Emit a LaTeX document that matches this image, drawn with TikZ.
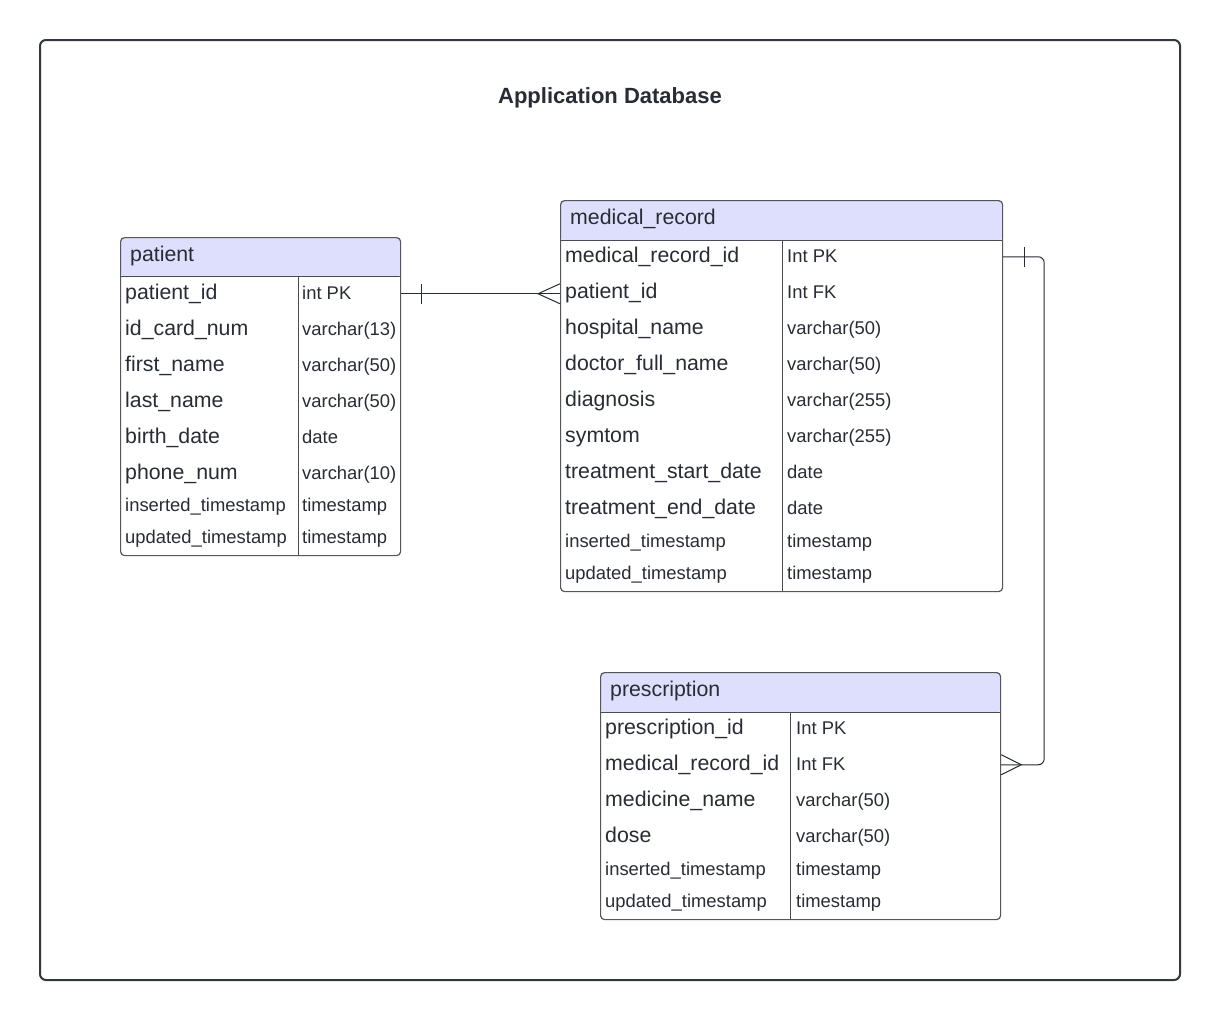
\documentclass[tikz,border=0pt]{standalone}
\usepackage{fontspec}
\setmainfont{Liberation Sans}
\usetikzlibrary{positioning}
\definecolor{ink}{RGB}{40,44,52}
\definecolor{hdrfill}{RGB}{222,223,252}
\definecolor{edge}{RGB}{85,85,90}

\tikzset{
  tbl/.style={draw=edge, line width=1.2pt, rounded corners=4pt, inner sep=0pt, anchor=north west,
    path picture={\fill[hdrfill] (path picture bounding box.north west) rectangle ([yshift=-#1]path picture bounding box.north east);}},
  rule/.style={draw=ink!85, line width=1pt},
  hdr/.style={anchor=base west, inner sep=0pt, text=ink, font=\fontsize{21.3}{25}\selectfont},
  fld/.style={anchor=base west, inner sep=0pt, text=ink, text height=15pt, text depth=4.5pt, font=\fontsize{21.3}{25}\selectfont},
  fldsm/.style={anchor=base west, inner sep=0pt, text=ink, text height=13pt, text depth=4pt, font=\fontsize{18.4}{22}\selectfont},
  link/.style={draw=ink, line width=1pt},
}

\begin{document}
\begin{tikzpicture}[x=1pt, y=-1pt]
    \useasboundingbox[fill=white] (0,0) rectangle (1220,1020);
    \draw[line width=2pt, draw=ink!95, rounded corners=6pt] (40,40) rectangle (1180,980);
    \node[anchor=base, text=ink, font=\bfseries\fontsize{22}{26}\selectfont] (title) at (610,103) {Application Database};

    % patient
    \node[tbl=39pt, minimum width=280pt, minimum height=318pt] (patient) at (120,237) {};
    \draw[rule] (120,276) -- (400,276);
    \draw[rule] (298,276) -- (298,555);
    \node[hdr] (patient_h) at (130,261) {patient};
    \node[fld] (pat_id) at (125,299) {patient\_id};
    \node[fldsm] (pat_id_ty) at (302,299) {int PK};
    \node[fld] (pat_card) at (125,335) {id\_card\_num};
    \node[fldsm] (pat_card_ty) at (302,335) {varchar(13)};
    \node[fld] (pat_first) at (125,371) {first\_name};
    \node[fldsm] (pat_first_ty) at (302,371) {varchar(50)};
    \node[fld] (pat_last) at (125,407) {last\_name};
    \node[fldsm] (pat_last_ty) at (302,407) {varchar(50)};
    \node[fld] (pat_birth) at (125,443) {birth\_date};
    \node[fldsm] (pat_birth_ty) at (302,443) {date};
    \node[fld] (pat_phone) at (125,479) {phone\_num};
    \node[fldsm] (pat_phone_ty) at (302,479) {varchar(10)};
    \node[fldsm] (pat_ins) at (125,511) {inserted\_timestamp};
    \node[fldsm] (pat_ins_ty) at (302,511) {timestamp};
    \node[fldsm] (pat_upd) at (125,543) {updated\_timestamp};
    \node[fldsm] (pat_upd_ty) at (302,543) {timestamp};

    % medical_record
    \node[tbl=40pt, minimum width=442pt, minimum height=391pt] (medrec) at (560,200) {};
    \draw[rule] (560,240) -- (1002,240);
    \draw[rule] (782,240) -- (782,591);
    \node[hdr] (medrec_h) at (570,224) {medical\_record};
    \node[fld] (mr_id) at (565,262) {medical\_record\_id};
    \node[fldsm] (mr_id_ty) at (787,262) {Int PK};
    \node[fld] (mr_pid) at (565,298) {patient\_id};
    \node[fldsm] (mr_pid_ty) at (787,298) {Int FK};
    \node[fld] (mr_hosp) at (565,334) {hospital\_name};
    \node[fldsm] (mr_hosp_ty) at (787,334) {varchar(50)};
    \node[fld] (mr_doc) at (565,370) {doctor\_full\_name};
    \node[fldsm] (mr_doc_ty) at (787,370) {varchar(50)};
    \node[fld] (mr_diag) at (565,406) {diagnosis};
    \node[fldsm] (mr_diag_ty) at (787,406) {varchar(255)};
    \node[fld] (mr_sym) at (565,442) {symtom};
    \node[fldsm] (mr_sym_ty) at (787,442) {varchar(255)};
    \node[fld] (mr_start) at (565,478) {treatment\_start\_date};
    \node[fldsm] (mr_start_ty) at (787,478) {date};
    \node[fld] (mr_end) at (565,514) {treatment\_end\_date};
    \node[fldsm] (mr_end_ty) at (787,514) {date};
    \node[fldsm] (mr_ins) at (565,547) {inserted\_timestamp};
    \node[fldsm] (mr_ins_ty) at (787,547) {timestamp};
    \node[fldsm] (mr_upd) at (565,579) {updated\_timestamp};
    \node[fldsm] (mr_upd_ty) at (787,579) {timestamp};

    % prescription
    \node[tbl=40pt, minimum width=400pt, minimum height=247pt] (presc) at (600,672) {};
    \draw[rule] (600,712) -- (1000,712);
    \draw[rule] (790,712) -- (790,919);
    \node[hdr] (presc_h) at (610,696) {prescription};
    \node[fld] (pr_id) at (605,734) {prescription\_id};
    \node[fldsm] (pr_id_ty) at (796,734) {Int PK};
    \node[fld] (pr_mrid) at (605,770) {medical\_record\_id};
    \node[fldsm] (pr_mrid_ty) at (796,770) {Int FK};
    \node[fld] (pr_med) at (605,806) {medicine\_name};
    \node[fldsm] (pr_med_ty) at (796,806) {varchar(50)};
    \node[fld] (pr_dose) at (605,842) {dose};
    \node[fldsm] (pr_dose_ty) at (796,842) {varchar(50)};
    \node[fldsm] (pr_ins) at (605,875) {inserted\_timestamp};
    \node[fldsm] (pr_ins_ty) at (796,875) {timestamp};
    \node[fldsm] (pr_upd) at (605,907) {updated\_timestamp};
    \node[fldsm] (pr_upd_ty) at (796,907) {timestamp};

    % relations
    \draw[link] (patient.east |- pat_id) coordinate (l1a) -- (medrec.west |- pat_id) coordinate (l1b);
    \draw[link] (l1a) ++(20,-10) -- ++(0,20);
    \draw[link] (l1b) ++(0,-10) -- ++(-22,10) -- ++(22,10);

    \draw[link, rounded corners=6pt] (medrec.east |- mr_id) coordinate (l2a) -- ++(41,0) |- (presc.east |- pr_mrid) coordinate (l2b);
    \draw[link] (l2a) ++(21,-10) -- ++(0,20);
    \draw[link] (l2b) ++(0,-10) -- ++(20,10) -- ++(-20,10);
\end{tikzpicture}
\end{document}
